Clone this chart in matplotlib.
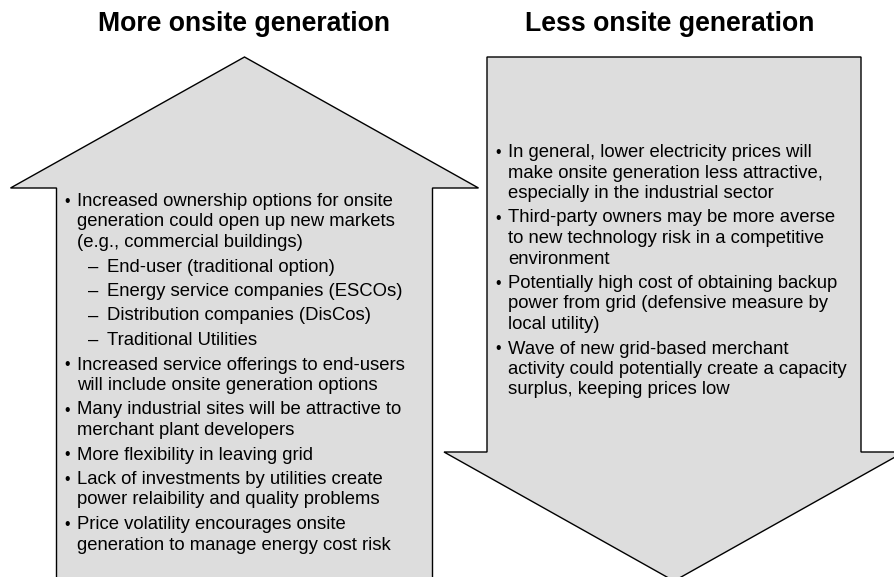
import matplotlib.pyplot as plt
from matplotlib.patches import Polygon

# titulos de las dos flechas
titles = ["More onsite generation", "Less onsite generation"]

# texto de la flecha izquierda (nivel 0 = viñeta, nivel 1 = guion), lineas de cada punto
left_items = [
    (0, ["Increased ownership options for onsite",
         "generation could open up new markets",
         "(e.g., commercial buildings)"]),
    (1, ["End-user (traditional option)"]),
    (1, ["Energy service companies (ESCOs)"]),
    (1, ["Distribution companies (DisCos)"]),
    (1, ["Traditional Utilities"]),
    (0, ["Increased service offerings to end-users",
         "will include onsite generation options"]),
    (0, ["Many industrial sites will be attractive to",
         "merchant plant developers"]),
    (0, ["More flexibility in leaving grid"]),
    (0, ["Lack of investments by utilities create",
         "power relaibility and quality problems"]),
    (0, ["Price volatility encourages onsite",
         "generation to manage energy cost risk"]),
]

# texto de la flecha derecha
right_items = [
    (0, ["In general, lower electricity prices will",
         "make onsite generation less attractive,",
         "especially in the industrial sector"]),
    (0, ["Third-party owners may be more averse",
         "to new technology risk in a competitive",
         "environment"]),
    (0, ["Potentially high cost of obtaining backup",
         "power from grid (defensive measure by",
         "local utility)"]),
    (0, ["Wave of new grid-based merchant",
         "activity could potentially create a capacity",
         "surplus, keeping prices low"]),
]

W, H = 894, 577
FILL = "#dddddd"

fig = plt.figure(figsize=(W / 100, H / 100), dpi=100)
ax = fig.add_axes([0, 0, 1, 1])
ax.set_xlim(0, W)
ax.set_ylim(H, 0)
ax.axis("off")


def up_arrow(ax, cx, tip_y, half_head, base_y, half_shaft, bottom_y):
    pts = [(cx, tip_y), (cx + half_head, base_y), (cx + half_shaft, base_y),
           (cx + half_shaft, bottom_y), (cx - half_shaft, bottom_y),
           (cx - half_shaft, base_y), (cx - half_head, base_y)]
    ax.add_patch(Polygon(pts, closed=True, facecolor=FILL, edgecolor="black", lw=1))


def down_arrow(ax, cx, top_y, half_shaft, base_y, half_head, tip_y):
    pts = [(cx - half_shaft, top_y), (cx + half_shaft, top_y), (cx + half_shaft, base_y),
           (cx + half_head, base_y), (cx, tip_y), (cx - half_head, base_y),
           (cx - half_shaft, base_y)]
    ax.add_patch(Polygon(pts, closed=True, facecolor=FILL, edgecolor="black", lw=1))


up_arrow(ax, 244.5, 57, 234, 188, 188, 600)
down_arrow(ax, 674, 57, 187, 452, 230, 581)

font = "Liberation Sans"
ax.text(244, 24, titles[0], ha="center", va="center", fontsize=19.2, fontweight="bold", family=font)
ax.text(670, 24, titles[1], ha="center", va="center", fontsize=19.2, fontweight="bold", family=font)


def draw_items(ax, items, x_bullet, y0, fs=13.3):
    # y0 = centro de la x-height de la primera linea; se dibuja sobre la linea base
    y = y0 + 5
    prev = None
    for level, lines in items:
        if prev is not None:
            y += 24.5
        if level == 0:
            ax.text(x_bullet, y, "\u2022", ha="left", va="baseline", fontsize=fs * 0.85, family=font)
            tx = x_bullet + 13
        else:
            ax.text(x_bullet + 24, y, "\u2013", ha="left", va="baseline", fontsize=fs, family=font)
            tx = x_bullet + 43
        for i, line in enumerate(lines):
            if i > 0:
                y += 20.5
            ax.text(tx, y, line, ha="left", va="baseline", fontsize=fs, family=font)
        prev = level


draw_items(ax, left_items, 64, 201)
draw_items(ax, right_items, 495, 152)

fig.savefig("out.png", dpi=100)
